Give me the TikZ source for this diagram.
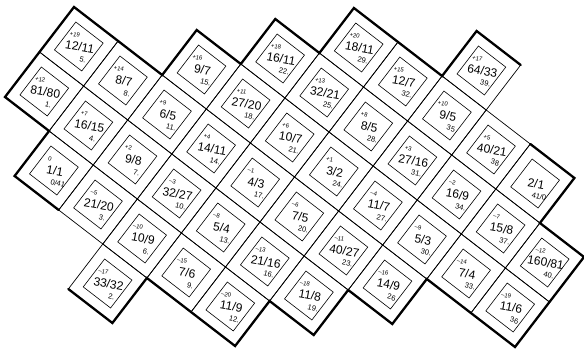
\documentclass[tikz,border=0pt]{standalone}
\usepackage{fontspec}
\setmainfont{Liberation Sans}
\usetikzlibrary{positioning}

\tikzset{
  cell/.style={line width=0.7pt},
  inner cell/.style={line width=0.6pt},
  rim/.style={line width=2.3pt,line join=miter,line cap=round},
  ratio/.style={inner sep=0pt,rotate=-10,font=\fontsize{12}{12}\selectfont},
  fifths/.style={inner sep=0pt,rotate=-14,font=\fontsize{6}{6}\selectfont},
  degree/.style={inner sep=0pt,rotate=-14,font=\fontsize{7.5}{7.5}\selectfont}
}

\begin{document}
\begin{tikzpicture}[x={(44.1pt,-34pt)},y={(-34.5pt,-45pt)}]
  \useasboundingbox (-74pt,7pt) rectangle (510pt,-343pt);
  % cells of the lattice: i/j/ratio/fifths/degree
  \foreach \i/\j/\r/\f/\d [count=\n] in {
      0/0/{12/11}/+19/5., 1/0/{8/7}/+14/8., 2/0/{6/5}/+9/11., 3/0/{14/11}/+4/14.,
      4/0/{4/3}/–1/17., 5/0/{7/5}/–6/20., 6/0/{40/27}/–11/23., 7/0/{14/9}/–16/26,
      0/1/{81/80}/+12/1., 1/1/{16/15}/+7/4., 2/1/{9/8}/+2/7., 3/1/{32/27}/–3/10.,
      4/1/{5/4}/–8/13., 5/1/{21/16}/–13/16., 6/1/{11/8}/–18/19.,
      1/2/{1/1}/0/{0/41}, 2/2/{21/20}/–5/3., 3/2/{10/9}/–10/6., 4/2/{7/6}/–15/9.,
      5/2/{11/9}/–20/12., 3/3/{33/32}/–17/2.,
      2/-1/{9/7}/+16/15., 3/-1/{27/20}/+11/18., 4/-1/{10/7}/+6/21., 5/-1/{3/2}/+1/24.,
      6/-1/{11/7}/–4/27., 7/-1/{5/3}/–9/30., 8/-1/{7/4}/–14/33., 9/-1/{11/6}/–19/36,
      3/-2/{16/11}/+18/22., 4/-2/{32/21}/+13/25., 5/-2/{8/5}/+8/28., 6/-2/{27/16}/+3/31.,
      7/-2/{16/9}/–2/34., 8/-2/{15/8}/–7/37., 9/-2/{160/81}/–12/40.,
      4/-3/{18/11}/+20/29., 5/-3/{12/7}/+15/32., 6/-3/{9/5}/+10/35, 7/-3/{40/21}/+5/38,
      8/-3/{2/1}/{}/{41/0}, 6/-4/{64/33}/+17/39.} {
    \draw[cell] (\i,\j) -- ++(1,0) -- ++(0,1) -- ++(-1,0) -- cycle;
    \draw[inner cell] (\i+.19,\j+.19) -- (\i+.81,\j+.19) -- (\i+.81,\j+.81) -- (\i+.19,\j+.81) -- cycle;
    \path (\i+.5,\j+.5) ++(1pt,0pt) node[ratio] (ratio\n) {\r};
    \path (\i+.5,\j+.5) ++(-4pt,12pt) node[fifths] (fifths\n) {\f};
    \path (\i+.5,\j+.5) ++(4pt,-13pt) node[degree] (degree\n) {\d};
  }
  % heavy outline
  \draw[rim] (2,3) -- (1,3) -- (1,2) -- (0,2) -- (0,0) -- (2,0) -- (2,-1) -- (3,-1)
    -- (3,-2) -- (4,-2) -- (4,-3) -- (6,-3) -- (6,-4) -- (7,-4);
  \draw[rim] (8,-3) -- (9,-3) -- (9,-2) -- (10,-2) -- (10,0) -- (8,0) -- (8,1) -- (7,1)
    -- (7,2) -- (6,2) -- (6,3) -- (4,3) -- (4,4) -- (3,4);
\end{tikzpicture}
\end{document}
